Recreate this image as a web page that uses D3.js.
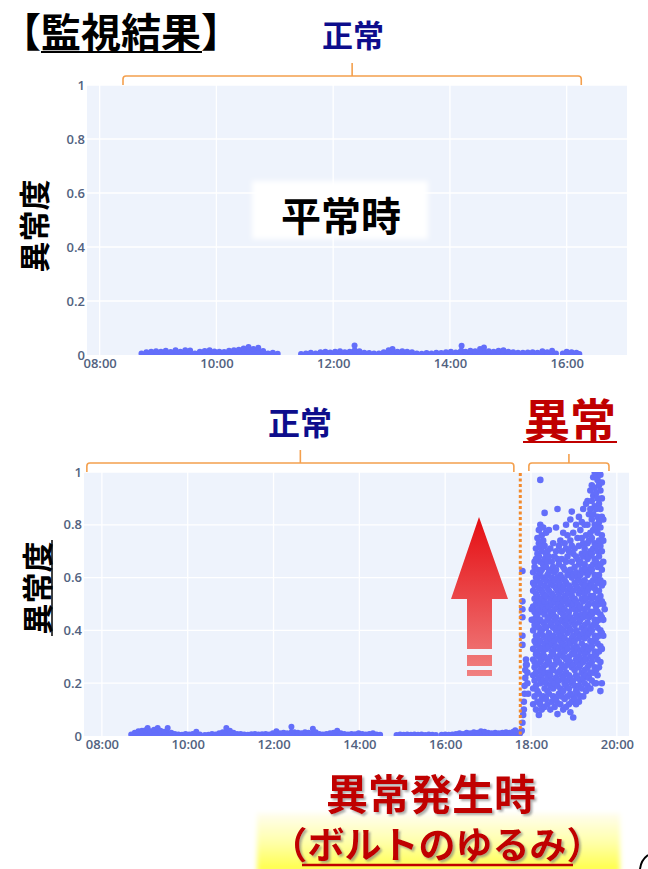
<!DOCTYPE html>
<html>
<head>
<meta charset="utf-8">
<script src="https://cdn.jsdelivr.net/npm/d3@7"></script>
<style>
  html, body { margin: 0; padding: 0; background: #fff; }
  svg { display: block; }
</style>
</head>
<body>
<div id="chart"></div>
<script>
// ---- data ----
const yTicks = [0, 0.2, 0.4, 0.6, 0.8, 1]
const yTickLabels = ['0', '0.2', '0.4', '0.6', '0.8', '1']
const topDomain = ['07:47', '17:02']
const bottomDomain = ['07:35', '20:17']

// normal operation day (null = gap in the record)
const topNormal = [
  ['08:43', 0.006], ['08:48', 0.01], ['08:53', 0.012], ['08:58', 0.014], ['09:03', 0.012],
  ['09:08', 0.016], ['09:13', 0.011], ['09:18', 0.018], ['09:23', 0.012], ['09:28', 0.018],
  ['09:33', 0.017], ['09:38', 0.006], ['09:43', 0.012], ['09:48', 0.015], ['09:53', 0.018],
  ['09:58', 0.013], ['10:03', 0.012], ['10:08', 0.011], ['10:13', 0.016], ['10:18', 0.018],
  ['10:23', 0.019], ['10:28', 0.024], ['10:33', 0.03], ['10:38', 0.022], ['10:43', 0.027],
  ['10:48', 0.015], ['10:53', 0.006], ['10:58', 0.008], ['11:03', 0.005],
  ['11:15', null],
  ['11:27', 0.004], ['11:32', 0.006], ['11:37', 0.008], ['11:42', 0.006], ['11:47', 0.01],
  ['11:52', 0.012], ['11:57', 0.009], ['12:02', 0.012], ['12:07', 0.014], ['12:12', 0.01],
  ['12:17', 0.012], ['12:22', 0.035], ['12:27', 0.014], ['12:32', 0.008], ['12:37', 0.007],
  ['12:42', 0.006], ['12:47', 0.006], ['12:52', 0.01], ['12:57', 0.018], ['13:01', 0.022],
  ['13:06', 0.012], ['13:11', 0.014], ['13:16', 0.012], ['13:21', 0.01], ['13:26', 0.006],
  ['13:31', 0.005], ['13:36', 0.007], ['13:41', 0.006], ['13:46', 0.008], ['13:51', 0.007],
  ['13:56', 0.01], ['14:01', 0.012], ['14:06', 0.009], ['14:12', 0.034], ['14:16', 0.012],
  ['14:21', 0.016], ['14:26', 0.014], ['14:31', 0.022], ['14:35', 0.028], ['14:40', 0.014],
  ['14:45', 0.012], ['14:50', 0.016], ['14:55', 0.018], ['15:00', 0.012], ['15:05', 0.01],
  ['15:10', 0.008], ['15:15', 0.008], ['15:20', 0.009], ['15:25', 0.01], ['15:30', 0.008],
  ['15:35', 0.014], ['15:40', 0.01], ['15:45', 0.016], ['15:49', 0.006],
  ['15:52', null],
  ['15:56', 0.006], ['16:00', 0.012], ['16:05', 0.01], ['16:10', 0.008], ['16:13', 0.004]
]

// day with the loosened bolt: normal part
const bottomNormal = [
  ['08:41', 0.006], ['08:46', 0.012], ['08:51', 0.018], ['08:56', 0.02], ['09:01', 0.022],
  ['09:04', 0.03], ['09:08', 0.018], ['09:13', 0.024], ['09:18', 0.03], ['09:22', 0.02],
  ['09:27', 0.016], ['09:32', 0.03], ['09:37', 0.012], ['09:42', 0.008], ['09:47', 0.006],
  ['09:52', 0.005], ['09:57', 0.008], ['10:02', 0.006], ['10:07', 0.008], ['10:12', 0.016],
  ['10:17', 0.006],
  ['10:20', null],
  ['10:24', 0.004], ['10:29', 0.005], ['10:34', 0.008], ['10:39', 0.006], ['10:44', 0.01],
  ['10:49', 0.014], ['10:54', 0.03], ['10:59', 0.02], ['11:04', 0.012], ['11:09', 0.008],
  ['11:14', 0.008], ['11:19', 0.006], ['11:24', 0.005], ['11:29', 0.007], ['11:34', 0.008],
  ['11:39', 0.006], ['11:44', 0.007], ['11:49', 0.008], ['11:54', 0.006], ['11:59', 0.01],
  ['12:04', 0.018], ['12:09', 0.01], ['12:14', 0.012], ['12:19', 0.01], ['12:25', 0.035],
  ['12:29', 0.014], ['12:34', 0.012], ['12:39', 0.01], ['12:44', 0.014], ['12:49', 0.012],
  ['12:55', 0.027], ['12:59', 0.014], ['13:04', 0.008], ['13:09', 0.006], ['13:14', 0.008],
  ['13:19', 0.01], ['13:24', 0.012], ['13:29', 0.02], ['13:34', 0.01], ['13:39', 0.008],
  ['13:44', 0.006], ['13:49', 0.008], ['13:54', 0.007], ['13:59', 0.01], ['14:04', 0.008],
  ['14:09', 0.006], ['14:14', 0.008], ['14:19', 0.01], ['14:24', 0.006], ['14:29', 0.005],
  ['14:40', null],
  ['14:52', 0.004], ['14:57', 0.006], ['15:02', 0.005], ['15:07', 0.006], ['15:12', 0.005],
  ['15:17', 0.006], ['15:22', 0.005], ['15:27', 0.006], ['15:32', 0.004], ['15:37', 0.006],
  ['15:42', 0.005], ['15:47', 0.004],
  ['15:51', null],
  ['15:55', 0.005], ['16:00', 0.006], ['16:05', 0.005], ['16:10', 0.006], ['16:15', 0.008],
  ['16:20', 0.01], ['16:25', 0.008], ['16:30', 0.012], ['16:35', 0.01], ['16:40', 0.014],
  ['16:45', 0.012], ['16:50', 0.018], ['16:55', 0.016], ['17:00', 0.012], ['17:05', 0.01],
  ['17:10', 0.012], ['17:15', 0.01], ['17:20', 0.012], ['17:25', 0.014], ['17:30', 0.012],
  ['17:35', 0.016], ['17:38', 0.022], ['17:42', 0.012], ['17:45', 0.01]
]

// onset of the anomaly (steep rise just before 18:00)
const onset = [
  ['17:47', 0.02], ['17:48', 0.05], ['17:49', 0.08], ['17:50', 0.1], ['17:50', 0.13],
  ['17:51', 0.16], ['17:51', 0.19], ['17:52', 0.22], ['17:52', 0.25], ['17:53', 0.27],
  ['17:53', 0.29], ['17:54', 0.27], ['17:55', 0.24], ['17:55', 0.2], ['17:56', 0.16],
  ['17:48', 0.345], ['17:48', 0.38], ['17:48', 0.45], ['17:48', 0.48], ['17:48', 0.51],
  ['17:48', 0.625], ['18:01', 0.48], ['18:01', 0.44]
]

// anomaly scores after 18:00, grouped by time
const anomaly = [
  ['18:03', [0.12, 0.18, 0.23, 0.29, 0.33, 0.4, 0.44, 0.49, 0.55, 0.58, 0.62]],
  ['18:05', [0.15, 0.21, 0.26, 0.28, 0.36, 0.42, 0.47, 0.52, 0.57, 0.64, 0.66]],
  ['18:07', [0.1, 0.19, 0.24, 0.31, 0.35, 0.38, 0.45, 0.5, 0.54, 0.6, 0.67, 0.71]],
  ['18:09', [0.13, 0.17, 0.27, 0.32, 0.37, 0.43, 0.46, 0.53, 0.59, 0.63, 0.69, 0.75]],
  ['18:11', [0.08, 0.16, 0.22, 0.3, 0.34, 0.41, 0.48, 0.51, 0.56, 0.61, 0.68, 0.73, 0.78]],
  ['18:13', [0.12, 0.2, 0.25, 0.28, 0.36, 0.39, 0.44, 0.5, 0.58, 0.62, 0.66, 0.72, 0.8, 0.97]],
  ['18:15', [0.1, 0.14, 0.23, 0.29, 0.33, 0.4, 0.47, 0.52, 0.55, 0.63, 0.7, 0.76]],
  ['18:17', [0.15, 0.21, 0.26, 0.31, 0.38, 0.43, 0.49, 0.54, 0.6, 0.65, 0.74, 0.79]],
  ['18:19', [0.11, 0.18, 0.24, 0.3, 0.35, 0.42, 0.46, 0.51, 0.57, 0.67, 0.72, 0.845]],
  ['18:21', [0.14, 0.2, 0.27, 0.33, 0.37, 0.41, 0.48, 0.53, 0.59, 0.64, 0.69, 0.77]],
  ['18:23', [0.12, 0.17, 0.22, 0.29, 0.36, 0.44, 0.5, 0.56, 0.61, 0.66, 0.7]],
  ['18:25', [0.16, 0.24, 0.28, 0.34, 0.39, 0.45, 0.49, 0.55, 0.62, 0.68, 0.78]],
  ['18:27', [0.1, 0.19, 0.23, 0.3, 0.37, 0.42, 0.47, 0.52, 0.58, 0.63, 0.71]],
  ['18:29', [0.13, 0.21, 0.26, 0.32, 0.35, 0.43, 0.5, 0.54, 0.6, 0.66]],
  ['18:31', [0.15, 0.18, 0.25, 0.31, 0.38, 0.41, 0.46, 0.53, 0.57, 0.64, 0.73]],
  ['18:33', [0.11, 0.2, 0.27, 0.33, 0.36, 0.44, 0.48, 0.51, 0.59, 0.62, 0.68]],
  ['18:35', [0.14, 0.22, 0.29, 0.34, 0.4, 0.45, 0.52, 0.56, 0.63, 0.7, 0.79]],
  ['18:37', [0.083, 0.125, 0.19, 0.24, 0.3, 0.37, 0.42, 0.49, 0.55, 0.6, 0.67, 0.86]],
  ['18:39', [0.16, 0.21, 0.28, 0.33, 0.39, 0.43, 0.5, 0.54, 0.58, 0.65, 0.72]],
  ['18:41', [0.12, 0.18, 0.25, 0.31, 0.36, 0.41, 0.47, 0.52, 0.57, 0.61, 0.74]],
  ['18:43', [0.15, 0.23, 0.27, 0.34, 0.38, 0.44, 0.49, 0.55, 0.6, 0.67, 0.7]],
  ['18:45', [0.1, 0.17, 0.22, 0.3, 0.35, 0.4, 0.46, 0.51, 0.56, 0.64, 0.77]],
  ['18:47', [0.14, 0.2, 0.26, 0.32, 0.37, 0.43, 0.48, 0.53, 0.59, 0.63, 0.73]],
  ['18:49', [0.11, 0.19, 0.24, 0.29, 0.34, 0.42, 0.45, 0.52, 0.58, 0.66, 0.71, 0.8]],
  ['18:51', [0.15, 0.21, 0.27, 0.33, 0.39, 0.44, 0.5, 0.55, 0.61, 0.68, 0.76]],
  ['18:53', [0.12, 0.18, 0.23, 0.3, 0.36, 0.41, 0.47, 0.54, 0.57, 0.62, 0.7]],
  ['18:55', [0.09, 0.16, 0.22, 0.28, 0.35, 0.4, 0.45, 0.51, 0.56, 0.63, 0.74, 0.82]],
  ['18:57', [0.13, 0.2, 0.26, 0.31, 0.37, 0.43, 0.49, 0.53, 0.6, 0.66, 0.72, 0.85]],
  ['18:59', [0.07, 0.15, 0.21, 0.27, 0.33, 0.38, 0.44, 0.5, 0.55, 0.61, 0.69, 0.77]],
  ['19:01', [0.14, 0.19, 0.25, 0.31, 0.36, 0.42, 0.48, 0.52, 0.58, 0.64, 0.71]],
  ['19:03', [0.12, 0.17, 0.23, 0.29, 0.34, 0.4, 0.46, 0.51, 0.57, 0.62, 0.68, 0.8]],
  ['19:05', [0.16, 0.22, 0.28, 0.33, 0.39, 0.45, 0.5, 0.56, 0.6, 0.67, 0.75]],
  ['19:07', [0.13, 0.19, 0.26, 0.3, 0.37, 0.43, 0.48, 0.54, 0.59, 0.65, 0.72, 0.83]],
  ['19:09', [0.15, 0.21, 0.27, 0.32, 0.38, 0.44, 0.49, 0.55, 0.61, 0.66, 0.78]],
  ['19:11', [0.18, 0.24, 0.29, 0.35, 0.41, 0.46, 0.52, 0.58, 0.63, 0.69, 0.75, 0.81]],
  ['19:13', [0.15, 0.22, 0.28, 0.33, 0.39, 0.45, 0.51, 0.56, 0.62, 0.68, 0.73, 0.86]],
  ['19:15', [0.2, 0.25, 0.31, 0.37, 0.42, 0.48, 0.54, 0.59, 0.65, 0.71, 0.8]],
  ['19:17', [0.17, 0.23, 0.29, 0.34, 0.4, 0.46, 0.52, 0.57, 0.63, 0.69, 0.76, 0.88]],
  ['19:19', [0.19, 0.26, 0.32, 0.38, 0.43, 0.49, 0.55, 0.61, 0.67, 0.73, 0.8, 0.89]],
  ['19:21', [0.22, 0.27, 0.33, 0.39, 0.45, 0.5, 0.56, 0.62, 0.68, 0.74, 0.84]],
  ['19:23', [0.18, 0.24, 0.3, 0.36, 0.41, 0.47, 0.53, 0.58, 0.64, 0.7, 0.77, 0.86, 0.93]],
  ['19:25', [0.21, 0.28, 0.34, 0.4, 0.46, 0.52, 0.57, 0.63, 0.69, 0.75, 0.82, 0.89, 0.95]],
  ['19:27', [0.24, 0.3, 0.36, 0.42, 0.47, 0.53, 0.59, 0.65, 0.71, 0.78, 0.84, 0.91, 0.98]],
  ['19:29', [0.2, 0.26, 0.32, 0.38, 0.44, 0.5, 0.56, 0.61, 0.67, 0.73, 0.8, 0.87, 0.94, 1.0]],
  ['19:31', [0.2, 0.25, 0.31, 0.37, 0.43, 0.49, 0.55, 0.6, 0.66, 0.72, 0.79, 0.86, 0.92, 0.99]],
  ['19:33', [0.23, 0.29, 0.35, 0.41, 0.47, 0.52, 0.58, 0.64, 0.7, 0.77, 0.83, 0.9, 0.97]],
  ['19:35', [0.26, 0.32, 0.38, 0.44, 0.5, 0.55, 0.61, 0.68, 0.74, 0.81, 0.88, 0.95, 1.0]],
  ['19:37', [0.17, 0.28, 0.34, 0.4, 0.46, 0.53, 0.59, 0.65, 0.72, 0.79, 0.86, 0.93, 0.99]],
  ['19:39', [0.2, 0.33, 0.39, 0.45, 0.51, 0.57, 0.63, 0.7, 0.76, 0.83, 0.9, 0.96]],
  ['19:41', [0.38, 0.44, 0.5, 0.58, 0.66, 0.74, 0.82]],
  ['19:43', [0.48]]
]

// ---- drawing ----
const dotColor = '#636efa'
const orange = '#f4a04e'
const navy = '#0d0d8c'
const red = '#c00000'
const cjk = '"Noto Sans CJK JP", "Noto Sans", sans-serif'
const parse = d3.timeParse('%H:%M')

const svg = d3.select('#chart').append('svg')
  .attr('width', 648)
  .attr('height', 869)

const defs = svg.append('defs')
const arrowGrad = defs.append('linearGradient')
  .attr('id', 'arrowGrad').attr('gradientUnits', 'userSpaceOnUse')
  .attr('x1', 0).attr('y1', 517).attr('x2', 0).attr('y2', 676)
arrowGrad.append('stop').attr('offset', 0).attr('stop-color', '#e50d12')
arrowGrad.append('stop').attr('offset', 1).attr('stop-color', '#f08080')

const yellowGrad = defs.append('linearGradient')
  .attr('id', 'yellowGrad').attr('x1', 0).attr('y1', 0).attr('x2', 0).attr('y2', 1)
yellowGrad.append('stop').attr('offset', 0).attr('stop-color', '#fffdf0')
yellowGrad.append('stop').attr('offset', 0.5).attr('stop-color', '#ffffa8')
yellowGrad.append('stop').attr('offset', 1).attr('stop-color', '#ffff40')

defs.append('filter').attr('id', 'soft')
  .append('feGaussianBlur').attr('stdDeviation', 2.5)
defs.append('filter').attr('id', 'shadow')
  .attr('x', '-10%').attr('y', '-20%').attr('width', '130%').attr('height', '150%')
  .append('feDropShadow')
  .attr('dx', 2).attr('dy', 2).attr('stdDeviation', 1.2)
  .attr('flood-color', '#777').attr('flood-opacity', 0.6)

function panel (id, left, right, top, bottom, domain) {
  const x = d3.scaleTime().domain(domain.map(parse)).range([left, right])
  const y = d3.scaleLinear().domain([0, 1]).range([bottom, top])
  const g = svg.append('g')
  const hours = x.ticks(d3.timeHour.every(2))

  defs.append('clipPath').attr('id', 'clip' + id)
    .append('rect')
    .attr('x', left).attr('y', top)
    .attr('width', right - left).attr('height', bottom - top)

  g.append('rect')
    .attr('x', left).attr('y', top)
    .attr('width', right - left).attr('height', bottom - top)
    .attr('fill', '#eef3fc')

  g.append('g').selectAll('line').data(hours).join('line')
    .attr('x1', d => x(d)).attr('x2', d => x(d))
    .attr('y1', top).attr('y2', bottom)
    .attr('stroke', '#fff').attr('stroke-width', 1.3)
  g.append('g').selectAll('line').data(yTicks.slice(1)).join('line')
    .attr('x1', left).attr('x2', right)
    .attr('y1', d => y(d)).attr('y2', d => y(d))
    .attr('stroke', '#fff').attr('stroke-width', 1.3)

  const xAxis = d3.axisBottom(x).ticks(d3.timeHour.every(2))
    .tickFormat(d3.timeFormat('%H:%M')).tickSize(0).tickPadding(4)
  const yAxis = d3.axisLeft(y).tickValues(yTicks)
    .tickFormat((d, i) => yTickLabels[i]).tickSize(0).tickPadding(2)

  g.append('g').attr('transform', 'translate(0,' + bottom + ')').call(xAxis)
  g.append('g').attr('transform', 'translate(' + left + ',0)').call(yAxis)
  g.selectAll('.domain').remove()
  g.selectAll('.tick text')
    .attr('font-family', '"Open Sans", sans-serif')
    .attr('font-size', 13)
    .attr('font-weight', 600)
    .attr('fill', '#52627f')

  const plot = g.append('g').attr('clip-path', 'url(#clip' + id + ')')
  return { x, y, plot }
}

function drawSeries (p, series, r) {
  const area = d3.area()
    .defined(d => d[1] !== null)
    .x(d => p.x(parse(d[0])))
    .y0(p.y(0))
    .y1(d => p.y(d[1]))
  p.plot.append('path').datum(series).attr('d', area).attr('fill', dotColor)
  p.plot.append('g').selectAll('circle')
    .data(series.filter(d => d[1] !== null)).join('circle')
    .attr('cx', d => p.x(parse(d[0])))
    .attr('cy', d => p.y(d[1]))
    .attr('r', r)
    .attr('fill', dotColor)
}

function bracket (x0, x1, y, yEnd, yTick) {
  const xc = (x0 + x1) / 2
  svg.append('path')
    .attr('d', 'M' + x0 + ',' + yEnd + ' L' + x0 + ',' + (y + 3) +
      ' Q' + x0 + ',' + y + ' ' + (x0 + 3) + ',' + y +
      ' L' + (x1 - 3) + ',' + y + ' Q' + x1 + ',' + y + ' ' + x1 + ',' + (y + 3) +
      ' L' + x1 + ',' + yEnd + ' M' + xc + ',' + y + ' L' + xc + ',' + yTick)
    .attr('fill', 'none')
    .attr('stroke', orange)
    .attr('stroke-width', 1.6)
}

function label (txt, x, y, size, color) {
  return svg.append('text')
    .attr('x', x).attr('y', y)
    .attr('text-anchor', 'middle')
    .attr('dominant-baseline', 'central')
    .attr('font-family', cjk)
    .attr('font-weight', 700)
    .attr('font-size', size)
    .attr('fill', color)
    .text(txt)
}

// title
svg.append('text')
  .attr('x', 1).attr('y', 47)
  .attr('font-family', cjk).attr('font-weight', 700).attr('font-size', 40)
  .attr('fill', '#000')
  .text('【監視結果】')
svg.append('line').attr('x1', 41).attr('x2', 202).attr('y1', 52).attr('y2', 52)
  .attr('stroke', '#000').attr('stroke-width', 2)

// top panel (normal day)
const topPanel = panel('Top', 87, 627, 85, 355, topDomain)
drawSeries(topPanel, topNormal, 3)

label('正常', 353, 33, 31, navy)
bracket(topPanel.x(parse('08:24')), topPanel.x(parse('16:15')), 76, 85, 63)

svg.append('text')
  .attr('transform', 'translate(32,226) rotate(-90)')
  .attr('text-anchor', 'middle').attr('dominant-baseline', 'central')
  .attr('font-family', cjk).attr('font-weight', 700).attr('font-size', 31)
  .text('異常度')

svg.append('rect')
  .attr('x', 252).attr('y', 181).attr('width', 176).attr('height', 58)
  .attr('fill', '#fff').attr('filter', 'url(#soft)')
label('平常時', 341, 214, 40, '#000')

// bottom panel (bolt loosening)
const botPanel = panel('Bot', 84, 629, 472, 736, bottomDomain)
drawSeries(botPanel, bottomNormal, 3)

const cloud = []
anomaly.forEach(([t, vals]) => vals.forEach(v => cloud.push([t, v])))
botPanel.plot.append('g').selectAll('circle')
  .data(onset.concat(cloud)).join('circle')
  .attr('cx', d => botPanel.x(parse(d[0])))
  .attr('cy', d => botPanel.y(d[1]))
  .attr('r', 3.3)
  .attr('fill', dotColor)

const xOnset = botPanel.x(parse('17:45'))
svg.append('line')
  .attr('x1', xOnset).attr('x2', xOnset).attr('y1', 473).attr('y2', 736)
  .attr('stroke', '#f28a2c').attr('stroke-width', 3)
  .attr('stroke-dasharray', '3,2.5')

bracket(botPanel.x(parse('07:39')), botPanel.x(parse('17:36')), 463, 472, 450)
bracket(botPanel.x(parse('17:57')), botPanel.x(parse('19:49')), 463, 471, 454)

label('正常', 300, 421, 32, navy)
label('異常', 570, 417, 46, red)
svg.append('line').attr('x1', 523).attr('x2', 617).attr('y1', 442).attr('y2', 442)
  .attr('stroke', red).attr('stroke-width', 2)

svg.append('text')
  .attr('transform', 'translate(35,588) rotate(-90)')
  .attr('text-anchor', 'middle').attr('dominant-baseline', 'central')
  .attr('font-family', cjk).attr('font-weight', 700).attr('font-size', 31)
  .text('異常度')
svg.append('line').attr('x1', 52).attr('x2', 52).attr('y1', 540).attr('y2', 636)
  .attr('stroke', '#000').attr('stroke-width', 1.5)

// red up arrow
const arrow = svg.append('g').attr('fill', 'url(#arrowGrad)')
arrow.append('path').attr('d', 'M479,517 L508,599 L492,599 L492,649 L467,649 L467,599 L451,599 Z')
arrow.append('rect').attr('x', 467).attr('y', 655).attr('width', 25).attr('height', 11)
arrow.append('rect').attr('x', 467).attr('y', 670).attr('width', 25).attr('height', 6)

// caption
svg.append('rect')
  .attr('x', 257).attr('y', 813).attr('width', 363).attr('height', 60)
  .attr('fill', 'url(#yellowGrad)').attr('filter', 'url(#soft)')
label('異常発生時', 431, 791, 42, red).attr('filter', 'url(#shadow)')
label('（ボルトのゆるみ）', 437, 843, 37, red).attr('filter', 'url(#shadow)')
svg.append('line').attr('x1', 302).attr('x2', 573).attr('y1', 865).attr('y2', 865)
  .attr('stroke', red).attr('stroke-width', 2.5)
svg.append('path').attr('d', 'M648,855 Q641,860 640,869')
  .attr('fill', 'none').attr('stroke', '#000').attr('stroke-width', 2)
</script>
</body>
</html>
